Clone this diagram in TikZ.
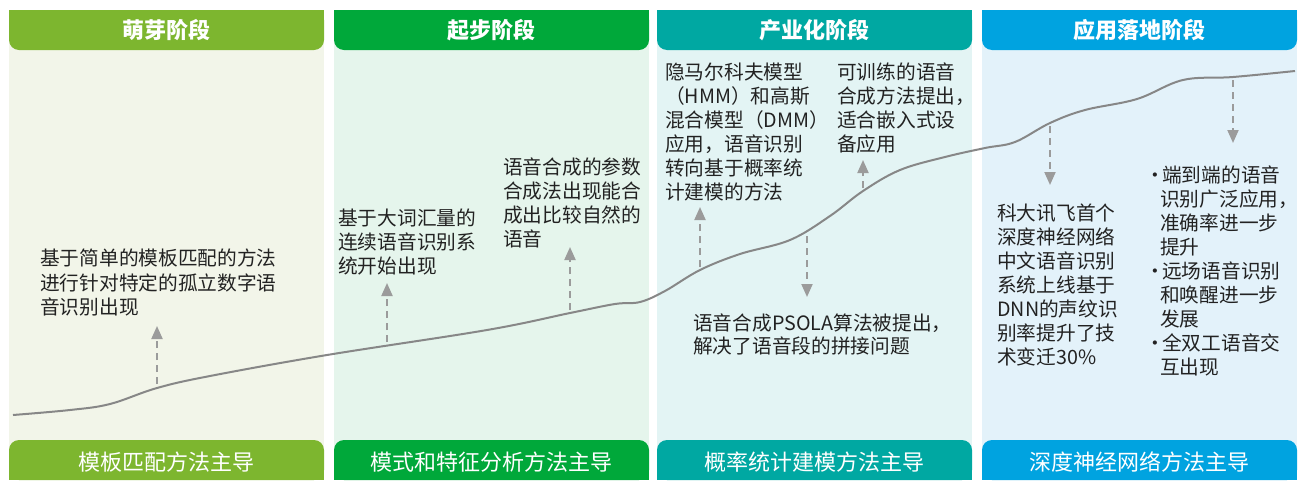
\documentclass[tikz,border=0pt]{standalone}
\usepackage{fontspec}
\setmainfont{Noto Sans CJK SC}
\usetikzlibrary{arrows.meta}
\definecolor{hA}{RGB}{125,182,47}
\definecolor{hB}{RGB}{0,168,58}
\definecolor{hC}{RGB}{0,168,162}
\definecolor{hD}{RGB}{0,163,224}
\definecolor{bA}{RGB}{242,245,233}
\definecolor{bB}{RGB}{229,245,236}
\definecolor{bC}{RGB}{227,244,244}
\definecolor{bD}{RGB}{227,242,250}
\definecolor{txt}{RGB}{34,34,34}
\definecolor{curvegray}{RGB}{135,135,135}
\definecolor{arrgray}{RGB}{155,155,155}
\begin{document}
\begin{tikzpicture}[x=1pt,y=-1pt,
  body/.style={anchor=north west, inner sep=0pt, align=left, text=txt, font=\fontsize{19.7}{24}\selectfont},
  htext/.style={inner sep=0pt, text=white, font=\fontsize{22}{26}\selectfont\bfseries},
  ftext/.style={inner sep=0pt, text=white, font=\fontsize{22}{26}\selectfont},
  arr/.style={draw=arrgray, line width=2pt, dash pattern=on 7pt off 5pt, -{Triangle[width=11pt,length=13pt]}},
  curve/.style={draw=curvegray, line width=2pt}]
\useasboundingbox (0,0) rectangle (1301,480);
% column backgrounds
\fill[bA] (9,10) rectangle (324,480);
\fill[bB] (334,10) rectangle (649,480);
\fill[bC] (657,10) rectangle (972,480);
\fill[bD] (982,10) rectangle (1297,480);
% headers and footers
\foreach \xa/\xb/\c in {9/324/hA, 334/649/hB, 657/972/hC, 982/1297/hD}{
  \fill[\c, rounded corners=10pt] (\xa,10) rectangle (\xb,50);
  \fill[\c] (\xa,10) rectangle (\xb,30);
  \fill[\c, rounded corners=10pt] (\xa,440) rectangle (\xb,480);
  \fill[\c] (\xa,460) rectangle (\xb,480);
}
\node[htext] (h1) at (166.5,30) {萌芽阶段};
\node[htext] (h2) at (491.5,30) {起步阶段};
\node[htext] (h3) at (814.5,30) {产业化阶段};
\node[htext] (h4) at (1139.5,30) {应用落地阶段};
\node[ftext] (f1) at (166.5,462) {模板匹配方法主导};
\node[ftext] (f2) at (491.5,462) {模式和特征分析方法主导};
\node[ftext] (f3) at (814.5,462) {概率统计建模方法主导};
\node[ftext] (f4) at (1139.5,462) {深度神经网络方法主导};
% curve
\draw[curve] plot[smooth, tension=0.6] coordinates {
 (13,415) (70,410) (110,404) (157,388) (210,376) (327,355)
 (487,330) (570,313) (615,304) (640,302) (665,291) (700,270)
 (740,254) (790,240) (830,216) (863,191) (900,170) (945,157) (985,148)
 (1015,142) (1050,123) (1085,110) (1137,99) (1183,80)
 (1233,77) (1295,71)};
% arrow anchor coordinates
\coordinate (s1) at (157,384); \coordinate (e1) at (157,326);
\coordinate (s2) at (387,342); \coordinate (e2) at (387,283);
\coordinate (s3) at (570,310); \coordinate (e3) at (570,247);
\coordinate (s4) at (700,267); \coordinate (e4) at (700,207);
\coordinate (s5) at (807,236); \coordinate (e5) at (807,297);
\coordinate (s6) at (863,188); \coordinate (e6) at (863,160);
\coordinate (s7) at (1050,126); \coordinate (e7) at (1050,185);
\coordinate (s8) at (1233,80); \coordinate (e8) at (1233,143);
\foreach \i in {1,...,8}{ \draw[arr] (s\i) -- (e\i); }
% texts
\node[body, font=\fontsize{19.7}{24.5}\selectfont] (t1) at (40,245.5) {\rule{0pt}{20pt}基于简单的模板匹配的方法\\进行针对特定的孤立数字语\\音识别出现};
\node[body] (t2) at (338,205.5) {\rule{0pt}{20pt}基于大词汇量的\\连续语音识别系\\统开始出现};
\node[body] (t3) at (503,154.5) {\rule{0pt}{20pt}语音合成的参数\\合成法出现能合\\成出比较自然的\\语音};
\node[body] (t4) at (665,59.5) {\rule{0pt}{20pt}隐马尔科夫模型\\（HMM）和高斯\\混合模型（DMM）\\应用，语音识别\\转向基于概率统\\计建模的方法};
\node[body] (t5) at (837,59.5) {\rule{0pt}{20pt}可训练的语音\\合成方法提出，\\适合嵌入式设\\备应用};
\node[body, font=\fontsize{19.7}{23}\selectfont] (t6) at (693,310.5) {\rule{0pt}{20pt}语音合成PSOLA算法被提出，\\解决了语音段的拼接问题};
\node[body] (t7) at (997,200.5) {\rule{0pt}{20pt}科大讯飞首个\\深度神经网络\\中文语音识别\\系统上线基于\\DNN的声纹识\\别率提升了技\\术变迁30\%};
\node[body] (t8) at (1145,162.5) {\rule{0pt}{20pt}\makebox[17pt][l]{•}端到端的语音\\\hspace*{15pt}识别广泛应用，\\\hspace*{15pt}准确率进一步\\\hspace*{15pt}提升\\\makebox[17pt][l]{•}远场语音识别\\\hspace*{15pt}和唤醒进一步\\\hspace*{15pt}发展\\\makebox[17pt][l]{•}全双工语音交\\\hspace*{15pt}互出现};
\end{tikzpicture}
\end{document}
